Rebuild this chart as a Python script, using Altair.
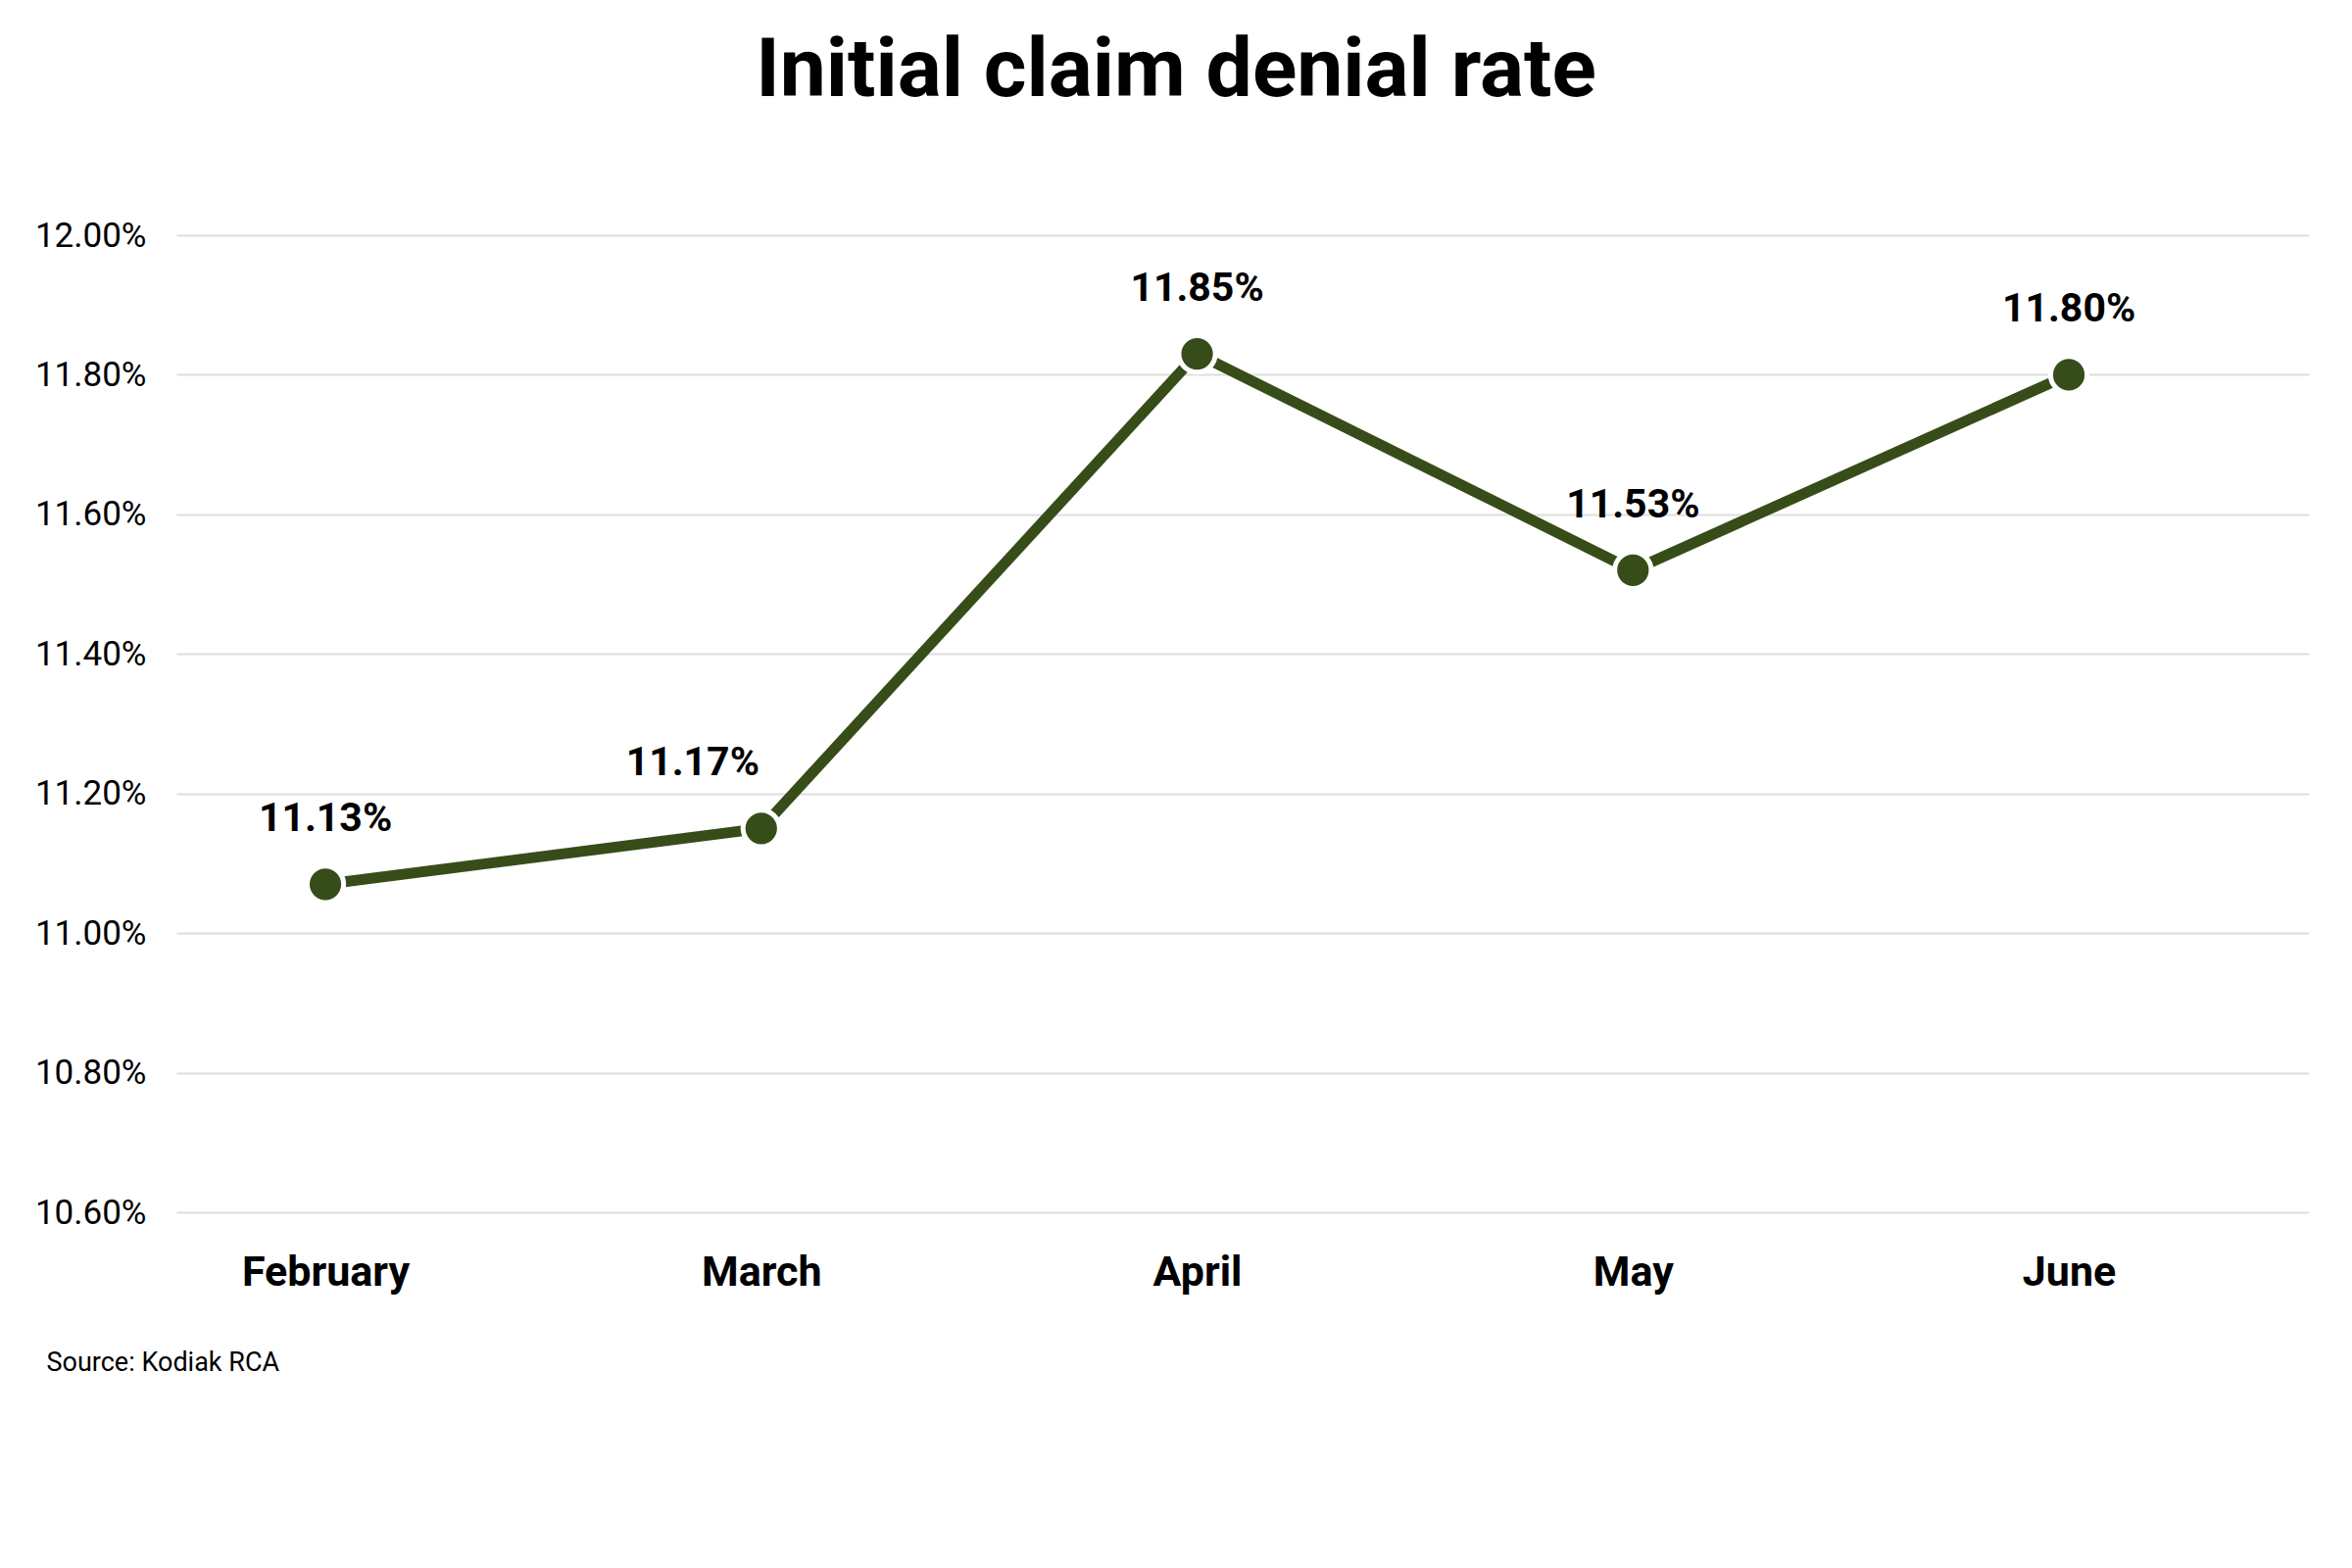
import altair as alt
import pandas as pd

months = ["February", "March", "April", "May", "June"]
rates = [11.07, 11.15, 11.83, 11.52, 11.80]
rate_labels = ["11.13%", "11.17%", "11.85%", "11.53%", "11.80%"]
y_ticks = [10.6, 10.8, 11.0, 11.2, 11.4, 11.6, 11.8, 12.0]

df = pd.DataFrame({"month": months, "rate": rates, "label": rate_labels})

GREEN = "#374D19"
FONT = "Roboto"

x_enc = alt.X(
    "month:N",
    sort=months,
    scale=alt.Scale(type="point", padding=0.4463, align=0.383),
    axis=alt.Axis(
        title="Source: Kodiak RCA",
        titleFont=FONT,
        titleFontSize=27,
        titleFontWeight="normal",
        titleColor="#000000",
        titleAnchor="start",
        titleAlign="left",
        titleBaseline="middle",
        titleX=-133,
        titleY=153,
        labelFont=FONT,
        labelFontSize=43,
        labelFontWeight="bold",
        labelColor="#000000",
        labelAngle=0,
        labelPadding=61,
        labelBaseline="middle",
        domain=False,
        ticks=False,
        grid=False,
    ),
)

y_enc = alt.Y(
    "rate:Q",
    scale=alt.Scale(domain=[10.6, 12.0], nice=False, zero=False),
    axis=alt.Axis(
        title=None,
        values=y_ticks,
        labelExpr="format(datum.value, '.2f') + '%'",
        labelFont=FONT,
        labelFontSize=35,
        labelColor="#000000",
        labelPadding=31,
        domain=False,
        ticks=False,
        grid=True,
        gridColor="#DEDEDE",
        gridWidth=2,
    ),
)

base = alt.Chart(df).encode(x=x_enc, y=y_enc)

line = base.mark_line(color=GREEN, strokeWidth=11)
points = base.mark_point(
    filled=True, shape="circle", size=1385, color=GREEN,
    stroke="white", strokeWidth=5, opacity=1
)
text_style = dict(
    font=FONT, fontSize=41, fontWeight="bold", color="#000000",
    baseline="middle", align="center", dy=-66
)
texts = base.mark_text(**text_style).encode(text="label:N").transform_filter(
    alt.datum.month != "March"
)
texts_march = base.mark_text(dx=-70, **text_style).encode(text="label:N").transform_filter(
    alt.datum.month == "March"
)

chart = (
    alt.layer(line, points, texts, texts_march)
    .properties(
        width=2176,
        height=997,
        title=alt.TitleParams(
            "Initial claim denial rate",
            font=FONT,
            fontSize=84,
            fontWeight="bold",
            color="#000000",
            anchor="middle",
            dx=-68,
            baseline="alphabetic",
            offset=41,
        ),
        autosize=alt.AutoSizeParams(type="none"),
        padding={"left": 172, "top": 232, "right": 36, "bottom": 300},
        background="white",
    )
    .configure_view(stroke=None)
)

chart.save("out.html", embed_options={"renderer": "svg", "actions": False})
